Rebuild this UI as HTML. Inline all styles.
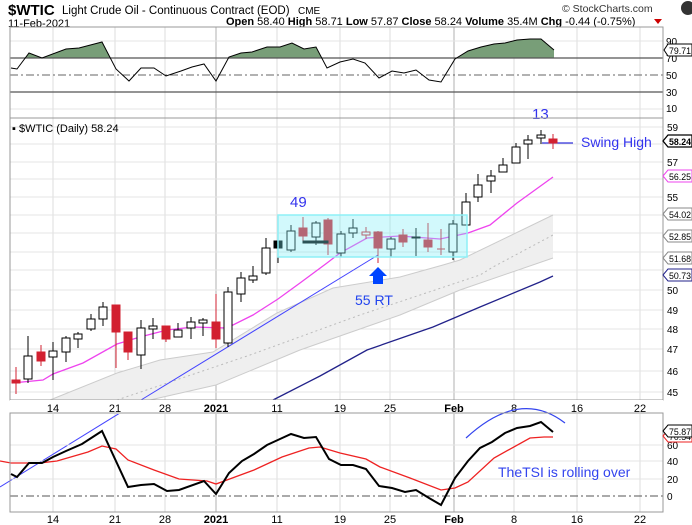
<!DOCTYPE html>
<html><head><meta charset="utf-8"><style>
html,body{margin:0;padding:0;background:#fff;}
svg{display:block;font-family:"Liberation Sans",Arial,sans-serif;}
</style></head><body>
<svg width="692" height="525" viewBox="0 0 692 525" xmlns="http://www.w3.org/2000/svg">
<rect width="692" height="525" fill="#fff"/>
<!-- header -->
<text x="8" y="15" font-size="15" font-weight="bold" fill="#000">$WTIC</text>
<text x="62" y="14" font-size="11.5" fill="#000">Light Crude Oil - Continuous Contract (EOD)</text>
<text x="298" y="14" font-size="10" fill="#000">CME</text>
<text x="562" y="12" font-size="10.5" fill="#333">© StockCharts.com</text>
<circle cx="688" cy="8" r="7" fill="#333"/>
<text x="8" y="27" font-size="11" fill="#000">11-Feb-2021</text>
<text x="226" y="25" font-size="11" fill="#000"><tspan font-weight="bold">Open</tspan> 58.40 <tspan font-weight="bold">High</tspan> 58.71 <tspan font-weight="bold">Low</tspan> 57.87 <tspan font-weight="bold">Close</tspan> 58.24 <tspan font-weight="bold">Volume</tspan> 35.4M <tspan font-weight="bold">Chg</tspan> -0.44 (-0.75%)</text>
<path d="M654 19 L662 19 L658 24Z" fill="#c00"/>

<!-- grid vertical -->
<g stroke="#dcdcdc" stroke-width="1">
<line x1="53" y1="27" x2="53" y2="512"/><line x1="115" y1="27" x2="115" y2="512"/><line x1="165" y1="27" x2="165" y2="512"/>
<line x1="277" y1="27" x2="277" y2="512"/><line x1="340" y1="27" x2="340" y2="512"/><line x1="390" y1="27" x2="390" y2="512"/>
<line x1="514" y1="27" x2="514" y2="512"/><line x1="577" y1="27" x2="577" y2="512"/><line x1="640" y1="27" x2="640" y2="512"/>
</g>
<g stroke="#b0b0b0" stroke-width="1">
<line x1="216" y1="27" x2="216" y2="512"/><line x1="454" y1="27" x2="454" y2="512"/>
</g>

<!-- RSI panel -->
<g stroke="#e4e4e4"><line x1="10" y1="41" x2="663" y2="41"/><line x1="10" y1="109" x2="663" y2="109"/></g>
<defs><clipPath id="ab"><rect x="10" y="27" width="653" height="31"/></clipPath></defs>
<path clip-path="url(#ab)" fill="#789e78" d="M11,68 L17,69 L29,53 L42,58 L66,49 L79,48 L102,42 L116,69 L129,81 L141,68 L154,68 L166,76 L181,71 L192,67 L204,64 L216,81 L229,57 L241,53 L252,52 L267,47 L280,47 L292,43 L304,49 L316,47 L327,68 L340,62 L353,59 L365,63 L379,78 L392,71 L404,73 L416,70 L429,80 L441,82 L455,59 L468,51 L481,47 L494,44 L505,43 L517,40 L530,39 L541,39 L554,50 L554,58 L11,58Z"/>
<line x1="10" y1="58" x2="663" y2="58" stroke="#555" stroke-width="1.2"/>
<line x1="10" y1="75" x2="663" y2="75" stroke="#666" stroke-dasharray="8,3,2,3"/>
<line x1="10" y1="92" x2="663" y2="92" stroke="#555" stroke-width="1.2"/>
<polyline fill="none" stroke="#000" stroke-width="1" points="11,68 17,69 29,53 42,58 66,49 79,48 102,42 116,69 129,81 141,68 154,68 166,76 181,71 192,67 204,64 216,81 229,57 241,53 252,52 267,47 280,47 292,43 304,49 316,47 327,68 340,62 353,59 365,63 379,78 392,71 404,73 416,70 429,80 441,82 455,59 468,51 481,47 494,44 505,43 517,40 530,39 541,39 554,50"/>
<rect x="10" y="27" width="653" height="91" fill="none" stroke="#999"/>
<g font-size="10" fill="#000">
<text x="666" y="45">90</text><text x="666" y="62">70</text><text x="666" y="79">50</text><text x="666" y="96">30</text><text x="666" y="112">10</text>
</g>
<path d="M664,50 L668,44 L692,44 L692,56 L668,56Z" fill="#fff" stroke="#000"/>
<text x="669" y="54" font-size="9.5" textLength="22" lengthAdjust="spacingAndGlyphs">79.71</text>

<!-- Main panel grid -->
<g stroke="#e4e4e4">
<line x1="10" y1="127" x2="663" y2="127"/><line x1="10" y1="144" x2="663" y2="144"/><line x1="10" y1="162" x2="663" y2="162"/><line x1="10" y1="179" x2="663" y2="179"/><line x1="10" y1="197" x2="663" y2="197"/><line x1="10" y1="215" x2="663" y2="215"/><line x1="10" y1="233" x2="663" y2="233"/><line x1="10" y1="252" x2="663" y2="252"/><line x1="10" y1="270" x2="663" y2="270"/><line x1="10" y1="290" x2="663" y2="290"/><line x1="10" y1="310" x2="663" y2="310"/><line x1="10" y1="329" x2="663" y2="329"/><line x1="10" y1="349" x2="663" y2="349"/><line x1="10" y1="371" x2="663" y2="371"/><line x1="10" y1="392" x2="663" y2="392"/>
</g>
<!-- band -->
<path d="M50,400 L117,373 L160,360 L213,352 L277,313 L333,288 L400,277 L443,265 L460,260 L553,215 L553,258 L460,290 L400,315 L300,350 L216,385 L150,400Z" fill="#efefef" stroke="none"/>
<polyline fill="none" stroke="#ccc" points="50,400 117,373 160,360 213,352 277,313 333,288 400,277 443,265 460,260 553,215"/>
<polyline fill="none" stroke="#ccc" points="150,400 216,385 300,350 400,315 460,290 553,258"/>
<polyline fill="none" stroke="#bbb" stroke-dasharray="2,3" points="117,400 250,355 360,315 480,275 493,267 553,235"/>
<!-- navy line -->
<polyline fill="none" stroke="#22228a" stroke-width="1.3" points="273,400 320,376 367,350 433,327 480,307 540,282 553,276"/>
<!-- blue trend -->
<line x1="141" y1="400" x2="378" y2="255" stroke="#4444ff" stroke-width="1"/>
<line x1="0" y1="487" x2="141" y2="400" stroke="#4444ff" stroke-width="1"/>
<line x1="542" y1="143" x2="573" y2="143" stroke="#3333dd" stroke-width="1.3"/>
<!-- magenta MA -->
<polyline fill="none" stroke="#ee44ee" stroke-width="1.3" points="12,383 43,380 53,374 83,363 117,344 140,337 167,330 193,327 227,328 253,315 278,299 300,283 327,263 340,253 367,238 400,236 440,239 468,233 490,225 517,203 553,177"/>

<!-- candles -->
<g stroke-width="1">
<g stroke="#d22030" fill="#d22030">
<line x1="16" y1="367" x2="16" y2="394"/><rect x="12" y="380" width="8" height="3"/>
<line x1="41" y1="345" x2="41" y2="366"/><rect x="37" y="352" width="8" height="9"/>
<line x1="116" y1="305" x2="116" y2="368"/><rect x="112" y="305" width="8" height="27"/>
<line x1="128" y1="332" x2="128" y2="360"/><rect x="124" y="332" width="8" height="20"/>
<line x1="166" y1="326" x2="166" y2="342"/><rect x="162" y="326" width="8" height="13"/>
<line x1="216" y1="294" x2="216" y2="348"/><rect x="212" y="322" width="8" height="17"/>
<line x1="303" y1="217" x2="303" y2="242"/><rect x="299" y="228" width="8" height="8"/>
<line x1="328" y1="218" x2="328" y2="255"/><rect x="324" y="220" width="8" height="24"/>
<line x1="378" y1="231" x2="378" y2="263"/><rect x="374" y="232" width="8" height="16"/>
<line x1="403" y1="229" x2="403" y2="247"/><rect x="399" y="235" width="8" height="7"/>
<line x1="428" y1="223" x2="428" y2="252"/><rect x="424" y="240" width="8" height="7"/>
<line x1="441" y1="229" x2="441" y2="255"/><line x1="437" y1="249" x2="445" y2="249"/>
<line x1="553" y1="134" x2="553" y2="149"/><rect x="549" y="139" width="8" height="4"/>
</g>
<g stroke="#d22030" fill="#fff"><line x1="366" y1="227" x2="366" y2="239"/><rect x="362" y="232" width="8" height="3"/></g>
<g stroke="#000" fill="#000"><line x1="278" y1="241" x2="278" y2="263"/><rect x="274" y="241" width="8" height="7"/><rect x="303" y="241" width="25" height="2"/></g>
<g stroke="#000" fill="#fff">
<line x1="28" y1="336" x2="28" y2="383"/><rect x="24" y="356" width="8" height="23"/>
<line x1="53" y1="342" x2="53" y2="380"/><rect x="49" y="351" width="8" height="6"/>
<line x1="66" y1="336" x2="66" y2="362"/><rect x="62" y="338" width="8" height="14"/>
<line x1="78" y1="332" x2="78" y2="348"/><rect x="74" y="334" width="8" height="5"/>
<line x1="91" y1="314" x2="91" y2="331"/><rect x="87" y="319" width="8" height="10"/>
<line x1="103" y1="302" x2="103" y2="326"/><rect x="99" y="307" width="8" height="12"/>
<line x1="141" y1="320" x2="141" y2="369"/><rect x="137" y="328" width="8" height="27"/>
<line x1="153" y1="318" x2="153" y2="339"/><rect x="149" y="326" width="8" height="3"/>
<line x1="178" y1="323" x2="178" y2="337"/><rect x="174" y="330" width="8" height="7"/>
<line x1="191" y1="317" x2="191" y2="339"/><rect x="187" y="322" width="8" height="6"/>
<line x1="203" y1="318" x2="203" y2="336"/><rect x="199" y="320" width="8" height="3"/>
<line x1="228" y1="287" x2="228" y2="347"/><rect x="224" y="292" width="8" height="51"/>
<line x1="241" y1="272" x2="241" y2="302"/><rect x="237" y="278" width="8" height="16"/>
<line x1="253" y1="266" x2="253" y2="283"/><rect x="249" y="276" width="8" height="4"/>
<line x1="266" y1="238" x2="266" y2="275"/><rect x="262" y="248" width="8" height="25"/>
<line x1="291" y1="225" x2="291" y2="252"/><rect x="287" y="231" width="8" height="19"/>
<line x1="316" y1="221" x2="316" y2="245"/><rect x="312" y="223" width="8" height="14"/>
<line x1="341" y1="231" x2="341" y2="257"/><rect x="337" y="234" width="8" height="19"/>
<line x1="353" y1="219" x2="353" y2="238"/><rect x="349" y="228" width="8" height="5"/>
<line x1="391" y1="237" x2="391" y2="257"/><rect x="387" y="239" width="8" height="10"/>
<line x1="416" y1="228" x2="416" y2="256"/><rect x="412" y="237" width="8" height="1"/>
<line x1="453" y1="220" x2="453" y2="260"/><rect x="449" y="224" width="8" height="28"/>
<line x1="466" y1="193" x2="466" y2="225"/><rect x="462" y="202" width="8" height="23"/>
<line x1="478" y1="174" x2="478" y2="202"/><rect x="474" y="185" width="8" height="12"/>
<line x1="491" y1="170" x2="491" y2="193"/><rect x="487" y="176" width="8" height="5"/>
<line x1="503" y1="158" x2="503" y2="172"/><rect x="499" y="165" width="8" height="7"/>
<line x1="516" y1="143" x2="516" y2="163"/><rect x="512" y="147" width="8" height="16"/>
<line x1="528" y1="135" x2="528" y2="159"/><rect x="524" y="140" width="8" height="4"/>
<line x1="541" y1="130" x2="541" y2="144"/><rect x="537" y="135" width="8" height="3"/>
</g>
</g>
<!-- cyan box -->
<rect x="278" y="215" width="189" height="42" fill="#7feef6" fill-opacity="0.35" stroke="#8ef0f6" stroke-width="1.5"/>
<!-- annotations -->
<text x="290" y="207" font-size="15" fill="#3333ee">49</text>
<text x="532" y="119" font-size="15" fill="#3333ee">13</text>
<text x="581" y="147" font-size="14" fill="#3333ee">Swing High</text>
<path d="M373,284 L383,284 L383,276 L387,276 L378,267 L369,276 L373,276Z" fill="#0044ff"/>
<text x="355" y="305" font-size="14" fill="#2244ee">55 RT</text>

<rect x="10" y="118" width="653" height="282" fill="none" stroke="#999"/>
<text x="12" y="132" font-size="11" fill="#000">▪ $WTIC (Daily) 58.24</text>
<g font-size="10" fill="#000">
<text x="667" y="131">59</text><text x="667" y="166">57</text><text x="667" y="201">55</text><text x="667" y="294">50</text><text x="667" y="314">49</text><text x="667" y="333">48</text><text x="667" y="353">47</text><text x="667" y="375">46</text><text x="667" y="396">45</text>
</g>
<g font-size="9.5">
<path d="M663,141 L668,135 L692,135 L692,147 L668,147Z" fill="#fff" stroke="#000" stroke-width="1.3"/><text x="669" y="145" font-weight="bold" textLength="22" lengthAdjust="spacingAndGlyphs">58.24</text>
<path d="M663,176 L668,170 L692,170 L692,182 L668,182Z" fill="#fff" stroke="#ee44ee"/><text x="669" y="180" textLength="22" lengthAdjust="spacingAndGlyphs">56.25</text>
<path d="M663,214 L668,208 L692,208 L692,220 L668,220Z" fill="#fff" stroke="#888"/><text x="669" y="218" textLength="22" lengthAdjust="spacingAndGlyphs">54.02</text>
<path d="M663,236 L668,230 L692,230 L692,242 L668,242Z" fill="#fff" stroke="#888"/><text x="669" y="240" textLength="22" lengthAdjust="spacingAndGlyphs">52.85</text>
<path d="M663,258 L668,252 L692,252 L692,264 L668,264Z" fill="#fff" stroke="#888"/><text x="669" y="262" textLength="22" lengthAdjust="spacingAndGlyphs">51.68</text>
<path d="M663,275 L668,269 L692,269 L692,281 L668,281Z" fill="#fff" stroke="#22228a"/><text x="669" y="279" textLength="22" lengthAdjust="spacingAndGlyphs">50.73</text>
</g>
<!-- date axis 1 -->
<rect x="10" y="400" width="653" height="14" fill="#fff"/>
<g font-size="11" fill="#000" text-anchor="middle">
<text x="53" y="412">14</text><text x="115" y="412">21</text><text x="165" y="412">28</text><text x="216" y="412" font-weight="bold">2021</text><text x="277" y="412">11</text><text x="340" y="412">19</text><text x="390" y="412">25</text><text x="454" y="412" font-weight="bold">Feb</text><text x="514" y="412">8</text><text x="577" y="412">16</text><text x="640" y="412">22</text>
</g>

<!-- TSI panel -->
<g stroke="#e4e4e4"><line x1="10" y1="445" x2="663" y2="445"/><line x1="10" y1="461" x2="663" y2="461"/><line x1="10" y1="479" x2="663" y2="479"/></g>
<line x1="10" y1="496" x2="663" y2="496" stroke="#555" stroke-dasharray="8,3,2,3"/>
<polyline fill="none" stroke="#ee2222" stroke-width="1.3" points="0,461 11,463 40,463 57,461 88,452 102,446 116,449 128,460 154,470 179,479 207,481 216,484 254,470 282,457 309,448 320,447 340,453 366,459 380,467 410,478 441,490 455,488 468,482 494,458 530,438 544,437 553,437"/>
<polyline fill="none" stroke="#000" stroke-width="2" points="11,474 17,477 29,463 42,463 53,457 66,451 82,444 102,431 128,487 141,485 154,484 167,491 179,490 204,481 216,494 229,473 242,461 254,454 267,445 280,439 291,434 304,438 316,437 329,459 341,465 353,465 366,469 379,486 392,488 405,492 416,490 429,498 441,505 455,478 468,461 480,448 492,442 505,433 517,428 530,426 541,422 553,432"/>
<path d="M466,438 Q520,388 565,423" fill="none" stroke="#3344ee" stroke-width="1.2"/>
<text x="498" y="477" font-size="14" fill="#3344ee">TheTSI is rolling over</text>
<rect x="10" y="413" width="653" height="99" fill="none" stroke="#999"/>
<g font-size="10" fill="#000">
<text x="667" y="449">60</text><text x="667" y="465">40</text><text x="667" y="483">20</text><text x="667" y="500">0</text>
</g>
<path d="M663,436 L668,430 L692,430 L692,442 L668,442Z" fill="#fff" stroke="#ee2222"/><text x="669" y="440" font-size="9.5" textLength="22" lengthAdjust="spacingAndGlyphs">70.54</text>
<path d="M663,431 L668,425 L692,425 L692,437 L668,437Z" fill="#fff" stroke="#000"/><text x="669" y="435" font-size="9.5" textLength="22" lengthAdjust="spacingAndGlyphs">75.87</text>
<g font-size="11" fill="#000" text-anchor="middle">
<text x="53" y="523">14</text><text x="115" y="523">21</text><text x="165" y="523">28</text><text x="216" y="523" font-weight="bold">2021</text><text x="277" y="523">11</text><text x="340" y="523">19</text><text x="390" y="523">25</text><text x="454" y="523" font-weight="bold">Feb</text><text x="514" y="523">8</text><text x="577" y="523">16</text><text x="640" y="523">22</text>
</g>
</svg>
</body></html>
